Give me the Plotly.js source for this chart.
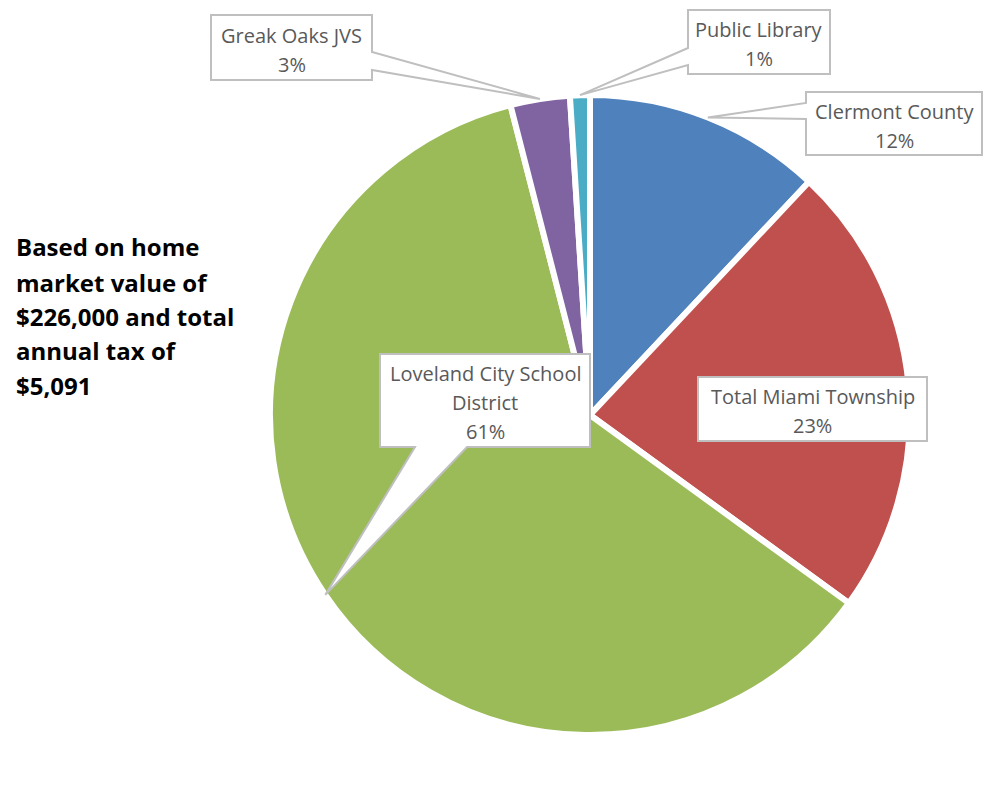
<!DOCTYPE html>
<html>
<head>
<meta charset="utf-8">
<script src="https://cdn.plot.ly/plotly-3.0.1.min.js"></script>
<style>html,body{margin:0;padding:0;background:#fff;}#chart{width:990px;height:812px;}</style>
</head>
<body>
<div id="chart"></div>
<script>
// ---- data ----
const categories = ['Clermont County', 'Total Miami Township', 'Loveland City School District', 'Greak Oaks JVS', 'Public Library'];
const labelLines = [['Clermont County'], ['Total Miami Township'], ['Loveland City School', 'District'], ['Greak Oaks JVS'], ['Public Library']];
const values = [12, 23, 61, 3, 1];
const colors = ['#4F81BD', '#C0504D', '#9BBB59', '#8064A2', '#4BACC6'];
const noteLines = ['Based on home', 'market value of', '$226,000 and total', 'annual tax of', '$5,091'];

// ---- layout helpers (pixel -> paper) ----
const W = 990, H = 812;
const px = x => x / W;
const py = y => 1 - y / H;

// pie placement (pixels)
const pieCx = 590, pieCy = 415, pieR = 320;

// callout boxes (pixels): box rect + side where pointer leaves
const boxes = [
  {l: 806, t: 92, r: 982, b: 155, side: 'left', a: 103, c: 119},
  {l: 698, t: 377, r: 927, b: 441, side: 'none'},
  {l: 380, t: 354, r: 590, b: 447, side: 'bottom', a: 415, c: 467},
  {l: 211, t: 15, r: 372, b: 80, side: 'right', a: 52, c: 70},
  {l: 688, t: 10, r: 830, b: 74, side: 'left', a: 48, c: 65}
];
const lineGap = 29;

const total = values.reduce((s, v) => s + v, 0);
let cum = 0;
const tips = values.map(v => {
  const mid = (cum + v / 2) / total;
  cum += v;
  const th = 2 * Math.PI * mid;
  return [pieCx + pieR * Math.sin(th), pieCy - pieR * Math.cos(th)];
});

function P(x, y) { return px(x).toFixed(5) + ',' + py(y).toFixed(5); }

const shapes = [];
const annotations = [];
boxes.forEach((b, i) => {
  const [tx, ty] = tips[i];
  let d;
  if (b.side === 'left') {
    d = 'M' + P(b.l, b.t) + ' L' + P(b.r, b.t) + ' L' + P(b.r, b.b) + ' L' + P(b.l, b.b) +
        ' L' + P(b.l, b.c) + ' L' + P(tx, ty) + ' L' + P(b.l, b.a) + ' Z';
  } else if (b.side === 'right') {
    d = 'M' + P(b.l, b.t) + ' L' + P(b.r, b.t) + ' L' + P(b.r, b.a) + ' L' + P(tx, ty) +
        ' L' + P(b.r, b.c) + ' L' + P(b.r, b.b) + ' L' + P(b.l, b.b) + ' Z';
  } else if (b.side === 'bottom') {
    d = 'M' + P(b.l, b.t) + ' L' + P(b.r, b.t) + ' L' + P(b.r, b.b) + ' L' + P(b.c, b.b) +
        ' L' + P(tx, ty) + ' L' + P(b.a, b.b) + ' L' + P(b.l, b.b) + ' Z';
  } else {
    d = 'M' + P(b.l, b.t) + ' L' + P(b.r, b.t) + ' L' + P(b.r, b.b) + ' L' + P(b.l, b.b) + ' Z';
  }
  shapes.push({type: 'path', xref: 'paper', yref: 'paper', path: d,
    fillcolor: '#FFFFFF', line: {color: '#BFBFBF', width: 2}, layer: 'above'});
  const pct = Math.round(values[i] / total * 100) + '%';
  const lines = labelLines[i].concat([pct]);
  const cy = (b.t + b.b) / 2 + 2;
  lines.forEach((t, k) => {
    annotations.push({
      xref: 'paper', yref: 'paper', x: px((b.l + b.r) / 2),
      y: py(cy + (k - (lines.length - 1) / 2) * lineGap),
      xanchor: 'center', yanchor: 'middle', showarrow: false, align: 'center',
      text: t,
      font: {family: '"Open Sans", sans-serif', size: 20, color: '#595959'}
    });
  });
});

const noteY = [246, 282, 316, 350, 385];
noteLines.forEach((t, i) => {
  annotations.push({
    xref: 'paper', yref: 'paper', x: px(14), y: py(noteY[i]),
    xanchor: 'left', yanchor: 'middle', showarrow: false, align: 'left',
    text: '<b>' + t + '</b>',
    font: {family: '"Open Sans", sans-serif', size: 24, color: '#000000'}
  });
});

const trace = {
  type: 'pie',
  labels: categories,
  values: values,
  sort: false,
  direction: 'clockwise',
  rotation: 0,
  textinfo: 'none',
  hoverinfo: 'label+percent',
  marker: {colors: colors, line: {color: '#FFFFFF', width: 6}},
  domain: {x: [px(pieCx - pieR), px(pieCx + pieR)], y: [py(pieCy + pieR), py(pieCy - pieR)]},
  showlegend: false
};

const layout = {
  width: W, height: H,
  margin: {l: 0, r: 0, t: 0, b: 0},
  paper_bgcolor: '#FFFFFF',
  showlegend: false,
  shapes: shapes,
  annotations: annotations
};

Plotly.newPlot('chart', [trace], layout, {displayModeBar: false, staticPlot: true});
</script>
</body>
</html>
